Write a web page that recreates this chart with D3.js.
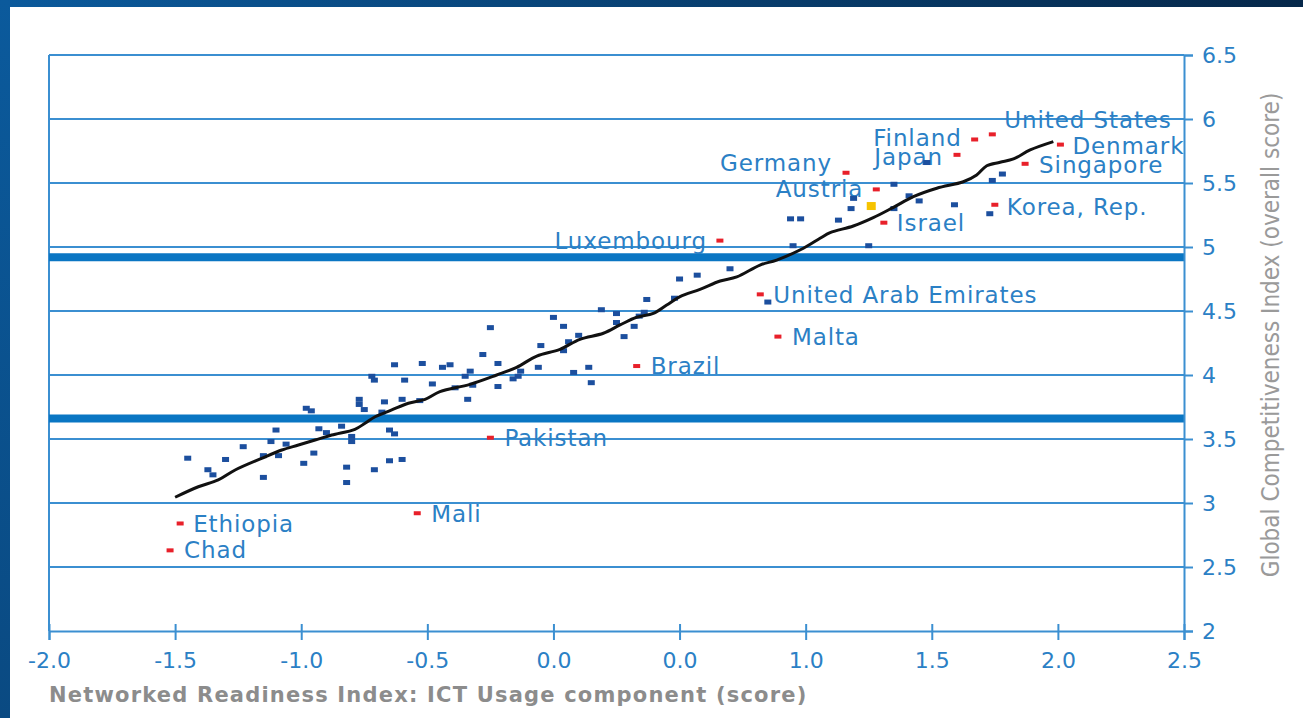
<!DOCTYPE html>
<html><head><meta charset="utf-8">
<script src="https://cdn.jsdelivr.net/npm/d3@7"></script>
<style>body{margin:0;background:#fff;overflow:hidden}</style>
</head><body><svg id="c" width="1303" height="718"></svg>
<script>
// ---------- DATA ----------
const xTickValues = [-2, -1.5, -1, -0.5, 0, 0.5, 1, 1.5, 2, 2.5];
const xTickLabels = ["-2.0", "-1.5", "-1.0", "-0.5", "0.0", "0.0", "1.0", "1.5", "2.0", "2.5"];
const yTickValues = [2, 2.5, 3, 3.5, 4, 4.5, 5, 5.5, 6, 6.5];
const yTickLabels = ["2", "2.5", "3", "3.5", "4", "4.5", "5", "5.5", "6", "6.5"];
const bandLevels = [4.92, 3.66];

const otherX = [-1.45,-1.37,-1.35,-1.30,-1.23,-1.15,-1.15,-1.12,-1.10,-1.09,-1.06,-0.99,-0.98,-0.96,-0.95,-0.93,-0.90,-0.84,-0.82,-0.82,
  -0.80,-0.80,-0.77,-0.77,-0.75,-0.72,-0.71,-0.71,-0.68,-0.67,-0.65,-0.63,-0.65,-0.63,-0.60,-0.60,-0.59,-0.53,-0.52,-0.48,
  -0.44,-0.41,-0.39,-0.35,-0.34,-0.33,-0.32,-0.28,-0.25,-0.22,-0.22,-0.16,-0.14,-0.13,-0.06,-0.05,0.00,0.04,0.04,0.06,
  0.08,0.10,0.14,0.15,0.19,0.25,0.25,0.28,0.32,0.34,0.36,0.37,0.48,0.50,0.57,0.70,0.85,0.95,0.94,0.98,
  1.13,1.18,1.19,1.25,1.35,1.41,1.35,1.45,1.48,1.59,1.74,1.78,1.73];
const otherY = [3.35,3.26,3.22,3.34,3.44,3.37,3.20,3.48,3.57,3.37,3.46,3.31,3.74,3.72,3.39,3.58,3.55,3.60,3.16,3.28,
  3.52,3.48,3.81,3.77,3.73,3.99,3.96,3.26,3.71,3.79,3.57,3.54,3.33,4.08,3.81,3.34,3.96,3.80,4.09,3.93,
  4.06,4.08,3.90,3.99,3.81,4.03,3.92,4.16,4.37,4.09,3.91,3.97,3.99,4.03,4.06,4.23,4.45,4.38,4.19,4.26,
  4.02,4.31,4.06,3.94,4.51,4.48,4.41,4.30,4.38,4.46,4.49,4.59,4.60,4.75,4.78,4.83,4.57,5.01,5.22,5.22,
  5.21,5.30,5.38,5.01,5.49,5.40,5.30,5.36,5.66,5.33,5.52,5.57,5.26];

const highlightX = [1.26];
const highlightY = [5.32];

const labeledNames = ["United States","Finland","Japan","Germany","Austria","Israel","Denmark","Singapore","Korea, Rep.",
  "United Arab Emirates","Luxembourg","Malta","Brazil","Pakistan","Mali","Ethiopia","Chad"];
const labeledX = [1.74,1.67,1.60,1.16,1.28,1.31,2.01,1.87,1.75,0.82,0.66,0.89,0.33,-0.25,-0.54,-1.48,-1.52];
const labeledY = [5.88,5.84,5.72,5.58,5.45,5.19,5.80,5.65,5.33,4.63,5.05,4.30,4.07,3.51,2.92,2.84,2.63];

const trendX = [-1.50,-1.408,-1.329,-1.262,-1.157,-1.077,-1.011,-0.945,-0.879,-0.787,-0.747,-0.707,-0.641,-0.575,-0.509,-0.450,
  -0.331,-0.225,-0.146,-0.066,0.026,0.105,0.198,0.264,0.330,0.396,0.449,0.502,0.581,0.661,0.727,0.819,0.885,0.991,1.057,1.097,
  1.189,1.268,1.348,1.427,1.520,1.625,1.678,1.718,1.771,1.824,1.890,1.982];
const trendY = [3.045,3.127,3.180,3.258,3.349,3.414,3.453,3.492,3.531,3.576,3.623,3.674,3.727,3.779,3.810,3.870,
  3.927,4.000,4.060,4.148,4.201,4.279,4.326,4.391,4.451,4.482,4.547,4.612,4.669,4.734,4.766,4.859,4.898,4.990,5.068,5.112,
  5.164,5.229,5.310,5.393,5.459,5.510,5.563,5.635,5.662,5.688,5.758,5.823];

const xTitle = "Networked Readiness Index: ICT Usage component (score)";
const yTitle = "Global Competitiveness Index (overall score)";

// ---------- LAYOUT (not data) ----------
const labelLayout = {
  "United States": ["start", 12, -14], "Finland": ["end", -13, -1], "Japan": ["end", -14, 2],
  "Germany": ["end", -14, -10], "Austria": ["end", -13, 0], "Israel": ["start", 13, 0],
  "Denmark": ["start", 12, 1], "Singapore": ["start", 14, 1], "Korea, Rep.": ["start", 12, 2],
  "United Arab Emirates": ["start", 13, 1], "Luxembourg": ["end", -13, 0], "Malta": ["start", 14, 0],
  "Brazil": ["start", 14, 0], "Pakistan": ["start", 14, 0], "Mali": ["start", 14, 1],
  "Ethiopia": ["start", 13, 1], "Chad": ["start", 14, 0]
};
const BLUE_TXT = "#2b80c5", GRID = "#3b8fd1", BAND = "#0a76c3";
const FONT = "'DejaVu Sans', sans-serif";

const svg = d3.select("#c");
const defs = svg.append("defs");
const gTop = defs.append("linearGradient").attr("id","gt").attr("x1","0").attr("x2","1").attr("y1","0").attr("y2","0");
gTop.append("stop").attr("offset","0").attr("stop-color","#0b5a9c");
gTop.append("stop").attr("offset","1").attr("stop-color","#06284a");
const gLeft = defs.append("linearGradient").attr("id","gl").attr("x1","0").attr("x2","0").attr("y1","0").attr("y2","1");
gLeft.append("stop").attr("offset","0").attr("stop-color","#0b5a9c");
gLeft.append("stop").attr("offset","1").attr("stop-color","#0a4a82");

svg.append("rect").attr("x",0).attr("y",0).attr("width",1303).attr("height",718).attr("fill","#fff");
svg.append("rect").attr("x",0).attr("y",0).attr("width",1303).attr("height",7).attr("fill","url(#gt)");
svg.append("rect").attr("x",0).attr("y",0).attr("width",10).attr("height",718).attr("fill","url(#gl)");

const x = d3.scaleLinear().domain([-2, 2.5]).range([49, 1184]);
const y = d3.scaleLinear().domain([2, 6.5]).range([631, 55]);

// gridlines
svg.append("g").selectAll("line").data(yTickValues.filter(v => v > 2)).join("line")
  .attr("x1", x(-2)).attr("x2", x(2.5)).attr("y1", d => y(d)).attr("y2", d => y(d))
  .attr("stroke", GRID).attr("stroke-width", 2);
// left border
svg.append("line").attr("x1", x(-2)).attr("x2", x(-2)).attr("y1", y(6.5)).attr("y2", y(2))
  .attr("stroke", GRID).attr("stroke-width", 2);
// thick bands
svg.append("g").selectAll("line").data(bandLevels).join("line")
  .attr("x1", x(-2)).attr("x2", x(2.5)).attr("y1", d => y(d)).attr("y2", d => y(d))
  .attr("stroke", BAND).attr("stroke-width", 8);

// x axis
const xAxis = svg.append("g").attr("transform", `translate(0,${y(2)})`)
  .call(d3.axisBottom(x).tickValues(xTickValues).tickSize(9).tickPadding(12)
    .tickFormat((d, i) => xTickLabels[i]));
xAxis.select(".domain").attr("stroke", GRID).attr("stroke-width", 2);
xAxis.selectAll(".tick line").attr("stroke", GRID).attr("stroke-width", 2).attr("y1", -7);
xAxis.selectAll(".tick text").attr("fill", BLUE_TXT).style("font", `22px ${FONT}`);

// y axis (right)
const yAxis = svg.append("g").attr("transform", `translate(${x(2.5)},0)`)
  .call(d3.axisRight(y).tickValues(yTickValues).tickSize(9).tickPadding(9)
    .tickFormat((d, i) => yTickLabels[i]));
yAxis.select(".domain").attr("stroke", GRID).attr("stroke-width", 2);
yAxis.selectAll(".tick line").attr("stroke", GRID).attr("stroke-width", 2);
yAxis.selectAll(".tick text").attr("fill", BLUE_TXT).style("font", `22px ${FONT}`);

// labels
const lab = svg.append("g");
labeledNames.forEach((n, i) => {
  const L = labelLayout[n];
  lab.append("text").attr("x", x(labeledX[i]) + L[1]).attr("y", y(labeledY[i]) + L[2])
    .attr("text-anchor", L[0]).attr("dominant-baseline", "central")
    .attr("fill", BLUE_TXT).style("font", `23px ${FONT}`).style("letter-spacing", "0.9px").text(n);
});

// other countries
svg.append("g").selectAll("rect").data(otherX.map((v, i) => [v, otherY[i]])).join("rect")
  .attr("x", d => x(d[0]) - 3.5).attr("y", d => y(d[1]) - 2.5).attr("width", 7).attr("height", 5)
  .attr("fill", "#1c4f9e");
// labeled red markers
svg.append("g").selectAll("rect").data(labeledX.map((v, i) => [v, labeledY[i]])).join("rect")
  .attr("x", d => x(d[0]) - 3.5).attr("y", d => y(d[1]) - 2).attr("width", 7).attr("height", 4)
  .attr("fill", "#e8202a");
// highlighted
svg.append("g").selectAll("rect").data(highlightX.map((v, i) => [v, highlightY[i]])).join("rect")
  .attr("x", d => x(d[0]) - 4.5).attr("y", d => y(d[1]) - 4).attr("width", 9).attr("height", 8)
  .attr("fill", "#f6c300");

// trend line
svg.append("path").datum(trendX.map((v, i) => [v, trendY[i]]))
  .attr("d", d3.line().x(d => x(d[0])).y(d => y(d[1])).curve(d3.curveCatmullRom))
  .attr("fill", "none").attr("stroke", "#111").attr("stroke-width", 3);

// titles
svg.append("text").attr("x", 49).attr("y", 695).attr("dominant-baseline", "central")
  .attr("fill", "#8c8c8c").style("font", `bold 21px ${FONT}`).style("letter-spacing", "1.2px").text(xTitle);
svg.append("text").attr("transform", "translate(1271,335) rotate(-90)")
  .attr("text-anchor", "middle").attr("dominant-baseline", "central")
  .attr("fill", "#9a9a9a").style("font", `24px 'DejaVu Sans Condensed', 'Liberation Sans Narrow', sans-serif`).text(yTitle);
</script></body></html>
